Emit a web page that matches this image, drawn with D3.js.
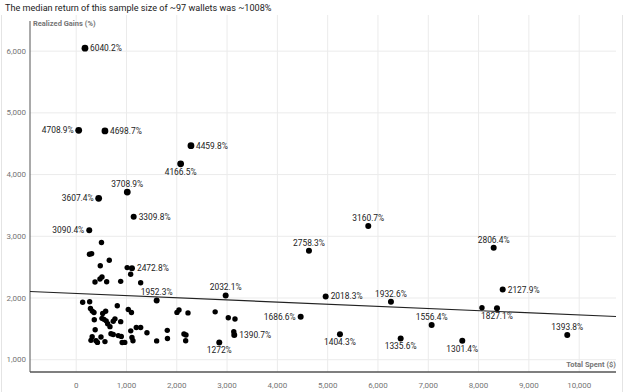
<!DOCTYPE html>
<html>
<head>
<meta charset="utf-8">
<script src="https://cdn.jsdelivr.net/npm/d3@7"></script>
<style>
  html, body { margin: 0; padding: 0; background: #fff; }
  svg { display: block; font-family: Roboto, "Noto Sans", Arial, sans-serif; }
</style>
</head>
<body>
<svg id="chart" width="629" height="392"></svg>
<script>
// ---------------- DATA ----------------
const chartTitle = "The median return of this sample size of ~97 wallets was ~1008%";
const xAxisTitle = "Total Spent ($)";
const yAxisTitle = "Realized Gains (%)";

const xTickValues = [0, 1000, 2000, 3000, 4000, 5000, 6000, 7000, 8000, 9000, 10000];
const yTickValues = [1000, 2000, 3000, 4000, 5000, 6000];

// labelled wallets
const labeledSpent = [185, 60, 582, 2292, 2087, 1026, 457, 1153, 270, 1119, 1610, 2982, 3153, 2855,
  4473, 4638, 5817, 4970, 6268, 5254, 6461, 7077, 7686, 8310, 8489, 8376, 9773];
const labeledGains = [6040.2, 4708.9, 4698.7, 4459.8, 4166.5, 3708.9, 3607.4, 3309.8, 3090.4, 2472.8,
  1952.3, 2032.1, 1390.7, 1272, 1686.6, 2758.3, 3160.7, 2018.3, 1932.6, 1404.3, 1335.6, 1556.4,
  1301.4, 2806.4, 2127.9, 1827.1, 1393.8];
const labeledText = ["6040.2%", "4708.9%", "4698.7%", "4459.8%", "4166.5%", "3708.9%", "3607.4%",
  "3309.8%", "3090.4%", "2472.8%", "1952.3%", "2032.1%", "1390.7%", "1272%", "1686.6%", "2758.3%",
  "3160.7%", "2018.3%", "1932.6%", "1404.3%", "1335.6%", "1556.4%", "1301.4%", "2806.4%",
  "2127.9%", "1827.1%", "1393.8%"];
// where each annotation sits relative to its point
const labeledSide = ["right", "left", "right", "right", "below", "above", "left", "right", "left", "right",
  "above", "above", "right", "below", "left", "above", "above", "right", "above", "below", "below",
  "above", "below", "above", "right", "below", "above"];

// unlabelled wallets
const otherSpent = [513, 274, 318, 668, 489, 1024, 1093, 384, 483, 523, 616, 895, 1292,
  139, 278, 294, 330, 364, 827, 1046, 1109, 537, 596, 370, 523, 563, 606, 636, 682, 747, 781, 895,
  388, 1095, 1205, 1292, 1417, 1821, 2014, 2054, 2233, 2773, 3034, 3167, 3143,
  304, 328, 404, 433, 503, 582, 702, 747, 847, 907, 924, 976, 1119, 1139, 1610, 1825, 2153, 2193, 2187,
  8077];
const otherGains = [2891, 2700, 2710, 2604, 2515, 2485, 2377, 2251, 2299, 2332, 2255, 2262, 2239,
  1923, 1931, 1821, 1780, 1756, 1866, 1805, 1756, 1740, 1777, 1640, 1662, 1646, 1622, 1576, 1528, 1615, 1654, 1609,
  1477, 1460, 1513, 1513, 1429, 1468, 1759, 1797, 1751, 1768, 1672, 1651, 1445,
  1306, 1364, 1299, 1273, 1359, 1286, 1413, 1400, 1383, 1370, 1270, 1273, 1351, 1299, 1297, 1335, 1408, 1392, 1299,
  1835];

// linear trendline endpoints (data units)
const trendSpent = [-908, 10742];
const trendGains = [2097, 1692];

// ---------------- CHART ----------------
const svg = d3.select("#chart");
const W = 629, H = 392;
const plot = { left: 30, right: 616, top: 15, bottom: 372 };

const x = d3.scaleLinear().domain([-908, 10742]).range([plot.left, plot.right]);
const y = d3.scaleLinear().domain([793, 6578]).range([plot.bottom, plot.top]);

// faint frame of the screenshot
svg.append("line").attr("x1", 1.5).attr("x2", 1.5).attr("y1", 15).attr("y2", H)
  .attr("stroke", "#e4e4e4");
svg.append("line").attr("x1", 622.5).attr("x2", 622.5).attr("y1", 15).attr("y2", H)
  .attr("stroke", "#e4e4e4");

// title
svg.append("text").attr("x", 5).attr("y", 10.7)
  .attr("font-size", 9.1).attr("fill", "#222").text(chartTitle);

// gridlines
const gx = svg.append("g").attr("transform", `translate(0,${plot.bottom})`)
  .call(d3.axisBottom(x).tickValues(xTickValues).tickSize(-(plot.bottom - plot.top)).tickFormat(""));
gx.select(".domain").remove();
gx.selectAll("line").attr("stroke", "#ebebeb");

const gy = svg.append("g").attr("transform", `translate(${plot.left},0)`)
  .call(d3.axisLeft(y).tickValues(yTickValues).tickSize(-(plot.right - plot.left)).tickFormat(""));
gy.select(".domain").remove();
gy.selectAll("line").attr("stroke", "#ebebeb");

// tick labels
const fmt = d3.format(",");
const xl = svg.append("g").attr("transform", `translate(0,${plot.bottom})`)
  .call(d3.axisBottom(x).tickValues(xTickValues).tickSize(0).tickPadding(10).tickFormat(fmt));
xl.select(".domain").remove();
xl.selectAll("text").attr("font-family", "Roboto, sans-serif").attr("font-size", 8).attr("fill", "#757575");

const yl = svg.append("g").attr("transform", `translate(${plot.left - 4},0)`)
  .call(d3.axisLeft(y).tickValues(yTickValues).tickSize(0).tickPadding(0).tickFormat(fmt));
yl.select(".domain").remove();
yl.selectAll("text").attr("font-family", "Roboto, sans-serif").attr("font-size", 8).attr("fill", "#757575");

// axis lines
svg.append("line").attr("x1", plot.left).attr("x2", plot.left).attr("y1", plot.top + 6).attr("y2", plot.bottom)
  .attr("stroke", "#555").attr("stroke-width", 1);
svg.append("line").attr("x1", plot.left).attr("x2", plot.right).attr("y1", plot.bottom).attr("y2", plot.bottom)
  .attr("stroke", "#555").attr("stroke-width", 1.5);

// axis titles
svg.append("text").attr("x", plot.left + 3).attr("y", 26)
  .attr("font-size", 7.5).attr("font-weight", "bold").attr("fill", "#757575").text(yAxisTitle);
svg.append("text").attr("x", plot.right).attr("y", plot.bottom - 5).attr("text-anchor", "end")
  .attr("font-size", 7.5).attr("font-weight", "bold").attr("fill", "#757575").text(xAxisTitle);

// trendline
svg.append("line")
  .attr("x1", x(trendSpent[0])).attr("y1", y(trendGains[0]))
  .attr("x2", x(trendSpent[1])).attr("y2", y(trendGains[1]))
  .attr("stroke", "#222").attr("stroke-width", 1.1);

// unlabelled points
svg.append("g").selectAll("circle").data(otherSpent.map((s, i) => [s, otherGains[i]]))
  .join("circle")
  .attr("cx", d => x(d[0])).attr("cy", d => y(d[1]))
  .attr("r", 2.7).attr("fill", "#000");

// labelled points
const lab = labeledSpent.map((s, i) => ({ s, g: labeledGains[i], t: labeledText[i], side: labeledSide[i] }));
svg.append("g").selectAll("circle").data(lab).join("circle")
  .attr("cx", d => x(d.s)).attr("cy", d => y(d.g))
  .attr("r", d => d.g > 3500 ? 3.4 : 3).attr("fill", "#000");

svg.append("g").selectAll("text").data(lab).join("text")
  .attr("font-size", 8.4).attr("fill", "#222")
  .attr("x", d => d.side === "right" ? x(d.s) + 5 : d.side === "left" ? x(d.s) - 5 : x(d.s))
  .attr("y", d => d.side === "above" ? y(d.g) - 8 : d.side === "below" ? y(d.g) + 8 : y(d.g))
  .attr("dy", "0.35em")
  .attr("text-anchor", d => d.side === "right" ? "start" : d.side === "left" ? "end" : "middle")
  .text(d => d.t);
</script>
</body>
</html>
